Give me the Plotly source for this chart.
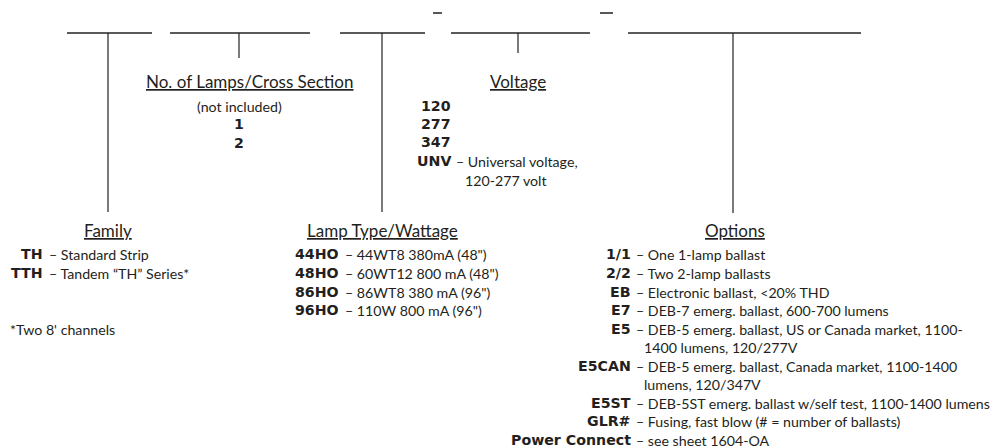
import plotly.graph_objects as go

# ---- data ----
top_segments = [(67, 152), (170, 310), (340, 425), (451, 590), (628, 861)]
top_y = 33
dash_segments = [(433, 442), (600, 613)]
dash_y = 13
verticals = [(108, 212), (239, 58), (382, 212), (518, 53), (733, 213)]

headers = [("Family", 108, 230), ("No. of Lamps/Cross Section", 249, 81),
           ("Voltage", 518, 81), ("Lamp Type/Wattage", 382, 230), ("Options", 735, 230)]

lamps_items = ["(not included)", "1", "2"]
lamps_y = [106, 124, 143]

volt_codes = ["120", "277", "347", "UNV"]
volt_y = [106, 124, 142, 161]
volt_desc = [("– Universal voltage,", 456, 161), ("120-277 volt", 465, 180)]

family_codes = ["TH", "TTH"]
family_desc = ["– Standard Strip", "– Tandem “TH” Series*"]
family_y = [254, 273]
family_note = "*Two 8' channels"

lamp_codes = ["44HO", "48HO", "86HO", "96HO"]
lamp_desc = ["– 44WT8 380mA (48\")", "– 60WT12 800 mA (48\")",
             "– 86WT8 380 mA (96\")", "– 110W 800 mA (96\")"]
lamp_y = [254, 273, 292, 310]

opt_codes = ["1/1", "2/2", "EB", "E7", "E5", "", "E5CAN", "", "E5ST", "GLR#", "Power Connect"]
opt_desc = ["– One 1-lamp ballast", "– Two 2-lamp ballasts", "– Electronic ballast, <20% THD",
            "– DEB-7 emerg. ballast, 600-700 lumens",
            "– DEB-5 emerg. ballast, US or Canada market, 1100-",
            "1400 lumens, 120/277V",
            "– DEB-5 emerg. ballast, Canada market, 1100-1400",
            "lumens, 120/347V",
            "– DEB-5ST emerg. ballast w/self test, 1100-1400 lumens",
            "– Fusing, fast blow (# = number of ballasts)",
            "– see sheet 1604-OA"]
opt_y = [254, 273, 292, 310, 329, 347, 366, 384, 403, 421, 440]

# ---- figure ----
FONT = "Lato"
BFONT = "DejaVu Sans"
FS = 14.2
BFS = 14.2
TXT = "#231f20"
fig = go.Figure()

for x0, x1 in top_segments:
    fig.add_trace(go.Scatter(x=[x0, x1], y=[top_y, top_y], mode="lines",
                             line=dict(color="#5a5a5a", width=2), hoverinfo="skip"))
for x0, x1 in dash_segments:
    fig.add_trace(go.Scatter(x=[x0, x1], y=[dash_y, dash_y], mode="lines",
                             line=dict(color="#231f20", width=1.5), hoverinfo="skip"))
for x, y1 in verticals:
    fig.add_trace(go.Scatter(x=[x, x], y=[top_y, y1], mode="lines",
                             line=dict(color="#231f20", width=1.2), hoverinfo="skip"))

ann = []
def add(text, x, y, anchor="left", size=FS, family=FONT):
    ann.append(dict(text=text, x=x, y=y, xref="x", yref="y", xanchor=anchor,
                    yanchor="middle", showarrow=False, borderpad=0, borderwidth=0,
                    font=dict(family=family, size=size, color=TXT)))

def bold(text, x, y, anchor="right"):
    add("<b>" + text + "</b>", x, y, anchor, BFS, BFONT)

for t, x, y in headers:
    add("<u>" + t + "</u>", x, y, "center", 17)
add(lamps_items[0], 239, lamps_y[0], "center")
for t, y in zip(lamps_items[1:], lamps_y[1:]):
    bold(t, 239, y, "center")
for t, y in zip(volt_codes, volt_y):
    bold(t, 451, y)
for t, x, y in volt_desc:
    add(t, x, y, "left")
for c, d, y in zip(family_codes, family_desc, family_y):
    bold(c, 43, y)
    add(d, 49, y, "left")
add(family_note, 10, 329, "left")
for c, d, y in zip(lamp_codes, lamp_desc, lamp_y):
    bold(c, 339, y)
    add(d, 345, y, "left")
for c, d, y in zip(opt_codes, opt_desc, opt_y):
    if c:
        bold(c, 631, y)
        add(d, 636, y, "left")
    else:
        add(d, 644, y, "left")

# The page body has an 8px margin; size the figure so data coords equal window pixels.
fig.update_layout(
    width=990, height=440, margin=dict(l=0, r=0, t=0, b=0),
    paper_bgcolor="white", plot_bgcolor="white", showlegend=False,
    xaxis=dict(range=[8, 998], visible=False, fixedrange=True),
    yaxis=dict(range=[448, 8], visible=False, fixedrange=True),
    annotations=ann,
)
fig.write_html("out.html", config={"displayModeBar": False})
